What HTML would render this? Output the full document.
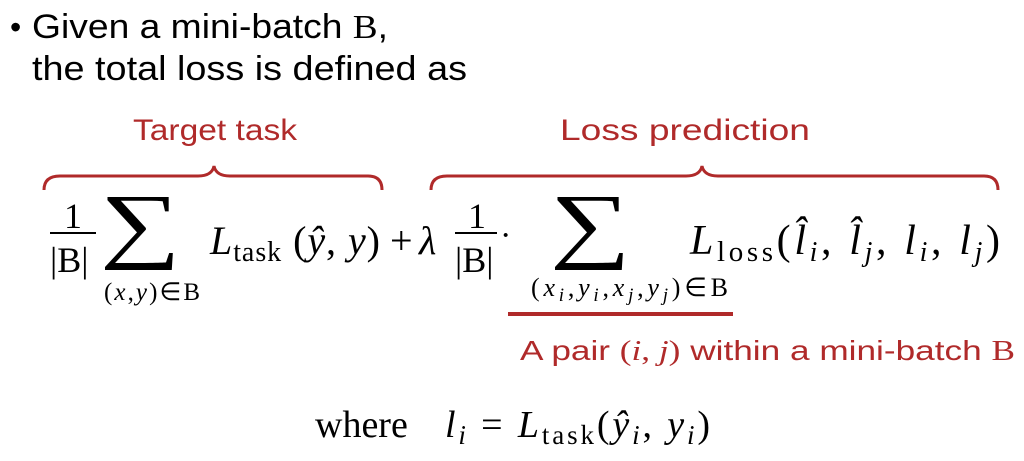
<!DOCTYPE html>
<html><head><meta charset="utf-8"><style>
html,body{margin:0;padding:0;background:#fff;}
svg{display:block;}
.s{font-family:"Liberation Sans",sans-serif;}
.m{font-family:"Liberation Serif",serif;}
.i{font-style:italic;}
.r{fill:#b02a2a;}
</style></head><body>
<svg width="1024" height="461" viewBox="0 0 1024 461" xmlns="http://www.w3.org/2000/svg">
<text class="s" x="10" y="38" font-size="32">•</text>
<text class="s" x="32" y="38" font-size="34" textLength="356" lengthAdjust="spacingAndGlyphs">Given a mini-batch <tspan class="m">B</tspan>,</text>
<text class="s" x="32" y="80" font-size="34" textLength="435" lengthAdjust="spacingAndGlyphs">the total loss is defined as</text>
<text class="s r" x="133" y="140" font-size="30" textLength="164" lengthAdjust="spacingAndGlyphs">Target task</text>
<text class="s r" x="560" y="140" font-size="30" textLength="250" lengthAdjust="spacingAndGlyphs">Loss prediction</text>
<path d="M44,190 Q44,176 60,176 L198,176 Q212,176 214,166 Q216,176 230,176 L368,176 Q382,176 382,190" fill="none" stroke="#b02a2a" stroke-width="3"/>
<path d="M431,190 Q431,176 447,176 L686,176 Q700,176 702,166 Q704,176 718,176 L984,176 Q998,176 998,190" fill="none" stroke="#b02a2a" stroke-width="3"/>
<text class="m" x="64" y="228" font-size="36">1</text>
<rect x="50" y="232" width="46" height="2" fill="#000"/>
<text class="m" x="50" y="272" font-size="36">|B|</text>
<text class="m" font-size="84" transform="translate(100,252) scale(1.35,1)">∑</text>
<text class="m" x="104" y="300" font-size="25" textLength="96" lengthAdjust="spacing">(<tspan class="i">x</tspan>,<tspan class="i">y</tspan>)∈B</text>
<text class="m" x="210" y="254" font-size="40" textLength="170" lengthAdjust="spacing"><tspan class="i">L</tspan><tspan font-size="28" dy="7">task</tspan><tspan dy="-7"> (</tspan><tspan class="i">ŷ</tspan>, <tspan class="i">y</tspan>)</text>
<text class="m" x="390" y="254" font-size="40">+</text>
<text class="m i" x="419" y="254" font-size="40">λ</text>
<text class="m" x="468" y="228" font-size="36">1</text>
<rect x="455" y="232" width="42" height="2" fill="#000"/>
<text class="m" x="455" y="272" font-size="36">|B|</text>
<text class="m" x="500" y="246" font-size="34">·</text>
<text class="m" font-size="84" transform="translate(550,252) scale(1.35,1)">∑</text>
<text class="m" x="531" y="296" font-size="26" textLength="197" lengthAdjust="spacing">(<tspan class="i">x</tspan><tspan class="i" font-size="19" dy="5">i</tspan><tspan dy="-5">,</tspan><tspan class="i">y</tspan><tspan class="i" font-size="19" dy="5">i</tspan><tspan dy="-5">,</tspan><tspan class="i">x</tspan><tspan class="i" font-size="19" dy="5">j</tspan><tspan dy="-5">,</tspan><tspan class="i">y</tspan><tspan class="i" font-size="19" dy="5">j</tspan><tspan dy="-5">)∈B</tspan></text>
<text class="m" x="690" y="254" font-size="42" textLength="310" lengthAdjust="spacing"><tspan class="i">L</tspan><tspan font-size="29" dy="7">loss</tspan><tspan dy="-7">(</tspan><tspan class="i">l̂</tspan><tspan class="i" font-size="28" dy="7">i</tspan><tspan dy="-7">, </tspan><tspan class="i">l̂</tspan><tspan class="i" font-size="28" dy="7">j</tspan><tspan dy="-7">, </tspan><tspan class="i">l</tspan><tspan class="i" font-size="28" dy="7">i</tspan><tspan dy="-7">, </tspan><tspan class="i">l</tspan><tspan class="i" font-size="28" dy="7">j</tspan><tspan dy="-7">)</tspan></text>
<rect x="508" y="312" width="225" height="4" fill="#b02a2a"/>
<text class="s r" x="520" y="360" font-size="28" textLength="495" lengthAdjust="spacingAndGlyphs">A pair <tspan class="m">(<tspan class="i">i</tspan>, <tspan class="i">j</tspan>)</tspan> within a mini-batch <tspan class="m">B</tspan></text>
<text class="m" x="315" y="437" font-size="38">where</text>
<text class="m" x="445" y="437" font-size="38" textLength="265" lengthAdjust="spacing"><tspan class="i">l</tspan><tspan class="i" font-size="27" dy="7">i</tspan><tspan dy="-7"> = </tspan><tspan class="i">L</tspan><tspan font-size="27" dy="7">task</tspan><tspan dy="-7">(</tspan><tspan class="i">ŷ</tspan><tspan class="i" font-size="27" dy="7">i</tspan><tspan dy="-7">, </tspan><tspan class="i">y</tspan><tspan class="i" font-size="27" dy="7">i</tspan><tspan dy="-7">)</tspan></text>
</svg>
</body></html>
